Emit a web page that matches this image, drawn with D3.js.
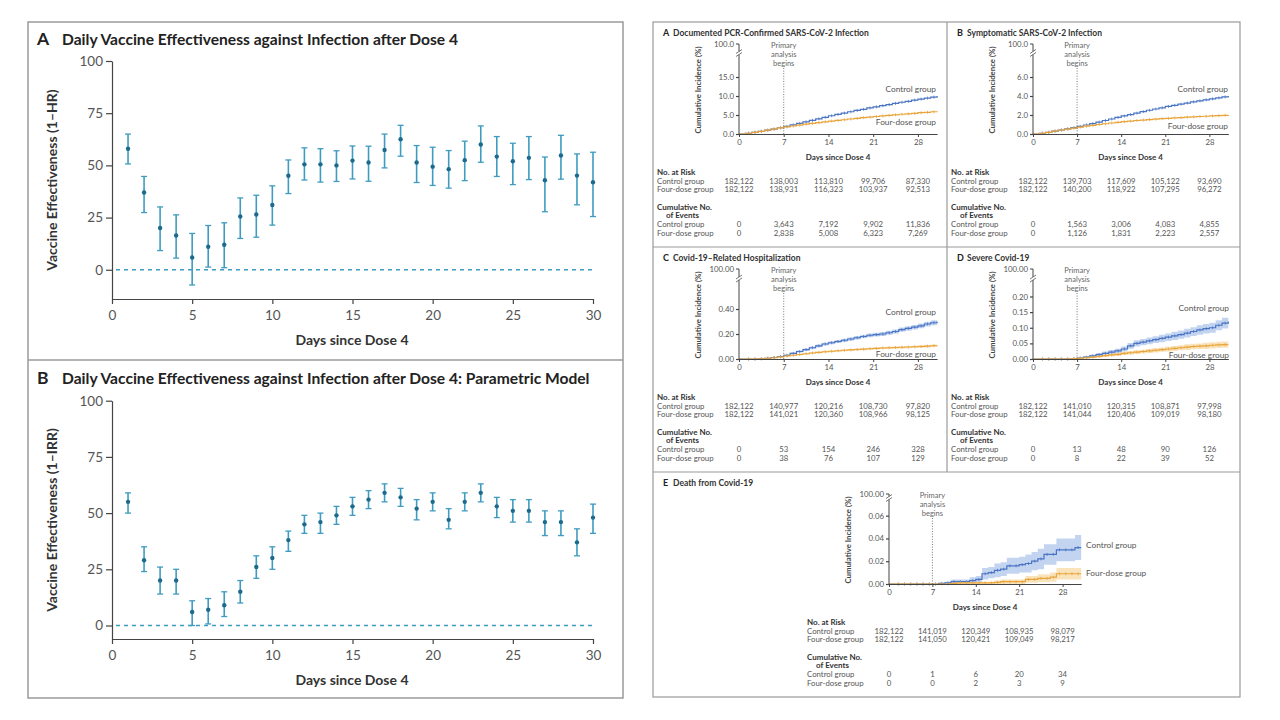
<!DOCTYPE html>
<html>
<head>
<meta charset="utf-8">
<script src="https://cdn.jsdelivr.net/npm/d3@7"></script>
<style>
body { margin: 0; background: #fff; }
svg { font-family: Lato, "Open Sans", sans-serif; }
</style>
</head>
<body>
<svg id="chart" width="1280" height="720"></svg>
<script>
// ---- left figure: daily vaccine effectiveness ----
var veDays = [1,2,3,4,5,6,7,8,9,10,11,12,13,14,15,16,17,18,19,20,21,22,23,24,25,26,27,28,29,30];
var veTicksX = [0,5,10,15,20,25,30];
var veTicksY = [0,25,50,75,100];

var hrEst = [58,37,20,16.4,5.9,11,12,25.5,26.5,31,45,50.5,50.5,50,52.3,51.4,57.4,62.5,51.4,49.4,48.2,52.5,60,54.2,52,53.6,42.9,54.7,45.1,41.9];
var hrLo  = [50.7,27.4,9.2,5.6,-7.3,1.3,1,15,15.6,21.4,36.5,43,42,42.3,43.5,42.4,48.8,54.4,41.8,40.4,39.1,42.7,51.5,44.7,40.8,43.2,27.8,43.4,31.1,25.5];
var hrHi  = [65,44.7,30.1,26.3,17.4,21.2,22.5,34.4,35.7,40.2,52.6,58.4,58,57,59.3,59.2,65,69.2,59.5,58.7,57.1,61.6,68.9,63.8,60.6,63.8,54,64.4,55.5,56.3];

var irrEst = [55,29,20,20,6,7,9,15,26,30,38,45,46,49,53,56,59,57,52,55,47,55,59,53,51,51,46,46,37,48];
var irrLo  = [50,24,14,14,0,0.7,4,10,21,25,33,41,41,45,49,52,55,53,47,51,43,51,55,48,46,46,40,40,31,41];
var irrHi  = [59,35,26,25,11,12,15,20,31,35,42,49,50,53,57,60,63,61,56,59,52,59,63,57,56,56,51,51,43,54];

// ---- right figure: cumulative incidence ----
var kmDays = [0,1,2,3,4,5,6,7,8,9,10,11,12,13,14,15,16,17,18,19,20,21,22,23,24,25,26,27,28,29,30,31];
var kmTickDays = [0,7,14,21,28];

var aCtrl = [0,0.2,0.45,0.7,1.0,1.3,1.65,2.0,2.4,2.8,3.2,3.6,4.0,4.4,4.8,5.15,5.5,5.85,6.2,6.5,6.85,7.15,7.45,7.75,8.05,8.35,8.6,8.9,9.2,9.45,9.7,10.0];
var aFour = [0,0.2,0.45,0.7,1.0,1.3,1.6,1.85,2.1,2.35,2.6,2.8,3.0,3.2,3.4,3.6,3.75,3.95,4.1,4.3,4.45,4.6,4.75,4.9,5.05,5.2,5.3,5.45,5.6,5.7,5.85,6.0];
var aRiskCtrl = ["182,122","138,003","113,810","99,706","87,330"];
var aRiskFour = ["182,122","138,931","116,323","103,937","92,513"];
var aEvCtrl = ["0","3,643","7,192","9,902","11,836"];
var aEvFour = ["0","2,838","5,008","6,323","7,269"];

var bCtrl = [0,0.08,0.18,0.3,0.42,0.54,0.67,0.8,0.95,1.1,1.25,1.42,1.58,1.74,1.9,2.05,2.2,2.35,2.5,2.63,2.76,2.9,3.02,3.14,3.26,3.38,3.49,3.6,3.7,3.8,3.9,4.0];
var bFour = [0,0.08,0.18,0.3,0.42,0.52,0.62,0.72,0.82,0.91,1.0,1.08,1.16,1.23,1.3,1.36,1.42,1.47,1.52,1.57,1.61,1.65,1.69,1.73,1.77,1.8,1.84,1.87,1.9,1.93,1.97,2.0];
var bRiskCtrl = ["182,122","139,703","117,609","105,122","93,690"];
var bRiskFour = ["182,122","140,200","118,922","107,295","96,272"];
var bEvCtrl = ["0","1,563","3,006","4,083","4,855"];
var bEvFour = ["0","1,126","1,831","2,223","2,557"];

var cCtrl = [0,0,0,0.002,0.006,0.012,0.02,0.03,0.045,0.06,0.075,0.09,0.105,0.12,0.13,0.14,0.15,0.16,0.17,0.18,0.19,0.195,0.2,0.21,0.22,0.235,0.245,0.255,0.265,0.28,0.29,0.30];
var cCtrlCI = [0,0,0,0.002,0.003,0.004,0.005,0.006,0.007,0.008,0.009,0.01,0.011,0.011,0.012,0.012,0.013,0.013,0.014,0.014,0.015,0.015,0.016,0.016,0.017,0.017,0.018,0.018,0.019,0.019,0.02,0.02];
var cFour = [0,0,0,0.002,0.006,0.01,0.016,0.024,0.03,0.036,0.042,0.048,0.053,0.058,0.062,0.066,0.07,0.073,0.076,0.079,0.082,0.085,0.088,0.09,0.092,0.094,0.096,0.098,0.1,0.103,0.106,0.108];
var cFourCI = [0,0,0,0.002,0.003,0.003,0.004,0.004,0.005,0.005,0.005,0.006,0.006,0.006,0.007,0.007,0.007,0.007,0.008,0.008,0.008,0.008,0.008,0.009,0.009,0.009,0.009,0.009,0.01,0.01,0.01,0.01];
var cRiskCtrl = ["182,122","140,977","120,216","108,730","97,820"];
var cRiskFour = ["182,122","141,021","120,360","108,966","98,125"];
var cEvCtrl = ["0","53","154","246","328"];
var cEvFour = ["0","38","76","107","129"];

var dCtrl = [0,0,0,0,0,0,0.001,0.003,0.006,0.01,0.014,0.018,0.022,0.026,0.032,0.042,0.05,0.054,0.058,0.062,0.066,0.07,0.074,0.078,0.083,0.088,0.093,0.097,0.1,0.108,0.115,0.12];
var dCtrlCI = [0,0,0,0,0,0,0.001,0.002,0.003,0.004,0.005,0.006,0.007,0.007,0.008,0.009,0.01,0.01,0.011,0.011,0.012,0.012,0.013,0.013,0.014,0.014,0.015,0.015,0.016,0.016,0.017,0.017];
var dFour = [0,0,0,0,0,0,0.001,0.002,0.004,0.006,0.008,0.011,0.013,0.015,0.018,0.02,0.022,0.024,0.026,0.028,0.03,0.032,0.034,0.036,0.038,0.04,0.041,0.042,0.044,0.045,0.046,0.046];
var dFourCI = [0,0,0,0,0,0,0.001,0.001,0.002,0.003,0.003,0.004,0.004,0.005,0.005,0.006,0.006,0.006,0.007,0.007,0.007,0.008,0.008,0.008,0.009,0.009,0.009,0.01,0.01,0.01,0.01,0.01];
var dRiskCtrl = ["182,122","141,010","120,315","108,871","97,998"];
var dRiskFour = ["182,122","141,044","120,406","109,019","98,180"];
var dEvCtrl = ["0","13","48","90","126"];
var dEvFour = ["0","8","22","39","52"];

var eCtrl = [0,0,0,0,0,0,0,0,0.0005,0.001,0.002,0.002,0.002,0.003,0.004,0.009,0.01,0.012,0.013,0.016,0.016,0.017,0.018,0.02,0.022,0.026,0.026,0.03,0.03,0.03,0.032,0.032];
var eCtrlCI = [0,0,0,0,0,0,0,0,0.0005,0.001,0.002,0.002,0.002,0.003,0.003,0.005,0.005,0.006,0.006,0.007,0.007,0.007,0.008,0.008,0.009,0.009,0.009,0.01,0.01,0.01,0.011,0.011];
var eFour = [0,0,0,0,0,0,0,0,0,0,0.0005,0.001,0.001,0.001,0.001,0.001,0.001,0.0015,0.002,0.002,0.002,0.002,0.004,0.004,0.005,0.005,0.006,0.009,0.009,0.009,0.009,0.009];
var eFourCI = [0,0,0,0,0,0,0,0,0,0,0.0005,0.001,0.001,0.001,0.001,0.001,0.001,0.0015,0.002,0.002,0.002,0.002,0.003,0.003,0.0035,0.0035,0.004,0.005,0.005,0.005,0.005,0.005];
var eRiskCtrl = ["182,122","141,019","120,349","108,935","98,079"];
var eRiskFour = ["182,122","141,050","120,421","109,049","98,217"];
var eEvCtrl = ["0","1","6","20","34"];
var eEvFour = ["0","0","2","3","9"];

var teal = "#3f9cc0", tealDark = "#1d6b8c";
var blue = "#4a74c4", blueBand = "#b4c9ec";
var orange = "#e9a53c", orangeBand = "#f8dcaa";
var border = "#9a9a9a";

var svg = d3.select("#chart");

// frames
svg.append("rect").attr("x", 28).attr("y", 22).attr("width", 595).attr("height", 676)
  .attr("fill", "none").attr("stroke", border).attr("stroke-width", 1.5);
svg.append("line").attr("x1", 28).attr("x2", 623).attr("y1", 360).attr("y2", 360)
  .attr("stroke", border).attr("stroke-width", 1.5);
svg.append("rect").attr("x", 653).attr("y", 22).attr("width", 587).attr("height", 675)
  .attr("fill", "none").attr("stroke", border).attr("stroke-width", 1.2);
svg.append("line").attr("x1", 947).attr("x2", 947).attr("y1", 22).attr("y2", 472)
  .attr("stroke", border).attr("stroke-width", 1.2);
[247, 472].forEach(function(yy) {
  svg.append("line").attr("x1", 653).attr("x2", 1240).attr("y1", yy).attr("y2", yy)
    .attr("stroke", border).attr("stroke-width", 1.2);
});

function styleAxis(sel, size) {
  sel.attr("font-family", null).attr("font-size", size);
  sel.selectAll("path, line").attr("stroke", "#444").attr("stroke-width", 1.2);
  sel.selectAll("text").attr("fill", "#555");
}

function drawVE(cfg) {
  var g = svg.append("g");
  var x = d3.scaleLinear().domain([0, 30]).range([112, 593]);
  var y = d3.scaleLinear().domain([cfg.yMin, 100]).range([cfg.bottom, cfg.top]);

  g.append("text").attr("x", 37).attr("y", cfg.titleY).attr("font-size", 17.5)
    .attr("font-weight", "bold").attr("fill", "#222").text(cfg.letter);
  g.append("text").attr("x", 62).attr("y", cfg.titleY).attr("font-size", 15.6)
    .attr("font-weight", "bold").attr("fill", "#222").text(cfg.title);

  g.append("g").attr("transform", "translate(112,0)")
    .call(d3.axisLeft(y).tickValues(veTicksY).tickSize(6).tickSizeOuter(0).tickPadding(3))
    .call(styleAxis, 13.5);
  g.append("g").attr("transform", "translate(0," + cfg.bottom + ")")
    .call(d3.axisBottom(x).tickValues(veTicksX).tickSize(5).tickSizeOuter(0).tickPadding(6))
    .call(styleAxis, 13.5);

  g.append("line").attr("x1", x(0) + 4).attr("x2", x(30)).attr("y1", y(0)).attr("y2", y(0))
    .attr("stroke", teal).attr("stroke-width", 1.3).attr("stroke-dasharray", "4,4");

  var bars = g.selectAll(".bar").data(veDays).enter().append("g");
  bars.append("line").attr("x1", function(d) { return x(d); }).attr("x2", function(d) { return x(d); })
    .attr("y1", function(d, i) { return y(cfg.lo[i]); }).attr("y2", function(d, i) { return y(cfg.hi[i]); })
    .attr("stroke", teal).attr("stroke-width", 1.6);
  ["lo", "hi"].forEach(function(k) {
    bars.append("line").attr("x1", function(d) { return x(d) - 3; }).attr("x2", function(d) { return x(d) + 3; })
      .attr("y1", function(d, i) { return y(cfg[k][i]); }).attr("y2", function(d, i) { return y(cfg[k][i]); })
      .attr("stroke", teal).attr("stroke-width", 1.3);
  });
  bars.append("circle").attr("cx", function(d) { return x(d); })
    .attr("cy", function(d, i) { return y(cfg.est[i]); }).attr("r", 2.2).attr("fill", tealDark);

  g.append("text").attr("transform", "translate(57," + cfg.yTitleY + ") rotate(-90)")
    .attr("text-anchor", "middle").attr("font-size", 14).attr("font-weight", "bold")
    .attr("fill", "#333").text(cfg.yTitle);
  g.append("text").attr("x", 352).attr("y", cfg.xTitleY).attr("text-anchor", "middle")
    .attr("font-size", 14).attr("font-weight", "bold").attr("fill", "#333").text("Days since Dose 4");
}

drawVE({ letter: "A", title: "Daily Vaccine Effectiveness against Infection after Dose 4",
  titleY: 45, top: 61, bottom: 299, yMin: -14, est: hrEst, lo: hrLo, hi: hrHi,
  yTitle: "Vaccine Effectiveness (1\u2013HR)", yTitleY: 180, xTitleY: 345 });
drawVE({ letter: "B", title: "Daily Vaccine Effectiveness against Infection after Dose 4: Parametric Model",
  titleY: 384, top: 400.7, bottom: 639, yMin: -6, est: irrEst, lo: irrLo, hi: irrHi,
  yTitle: "Vaccine Effectiveness (1\u2013IRR)", yTitleY: 520, xTitleY: 685 });

function drawKM(p) {
  var g = svg.append("g").attr("transform", "translate(" + p.ox + "," + p.oy + ")");
  var ax = p.axisX, ay = 112, topY = 22;
  var x = d3.scaleLinear().domain([0, 31]).range([ax, ax + 31 * p.ppd]);
  var y = d3.scaleLinear().domain([0, p.brk]).range([ay, p.breakY]);

  g.append("text").attr("x", 10).attr("y", 14).attr("font-size", 9).attr("font-weight", "bold")
    .attr("fill", "#222").text(p.letter);
  g.append("text").attr("x", 20).attr("y", 14).attr("font-size", 8.5).attr("font-weight", "bold")
    .attr("fill", "#333").text(p.title);

  // bands and curves (four-dose drawn on top)
  var area = d3.area().curve(d3.curveStepAfter).x(function(d) { return x(d); });
  var line = d3.line().curve(d3.curveStepAfter).x(function(d) { return x(d); });
  [[p.ctrl, p.ctrlCI, blue, blueBand], [p.four, p.fourCI, orange, orangeBand]].forEach(function(s) {
    if (s[1]) {
      g.append("path").datum(kmDays)
        .attr("d", area.y0(function(d, i) { return y(Math.max(0, s[0][i] - s[1][i])); })
          .y1(function(d, i) { return y(s[0][i] + s[1][i]); }))
        .attr("fill", s[3]).attr("opacity", 0.8);
    }
  });
  [[p.ctrl, blue], [p.four, orange]].forEach(function(s) {
    g.append("path").datum(kmDays).attr("d", line.y(function(d, i) { return y(s[0][i]); }))
      .attr("fill", "none").attr("stroke", s[1]).attr("stroke-width", 1.2);
    g.selectAll(null).data(kmDays.slice(1, 31)).enter().append("line")
      .attr("x1", function(d) { return x(d + 0.5); }).attr("x2", function(d) { return x(d + 0.5); })
      .attr("y1", function(d) { return y(s[0][d]) - 1.5; }).attr("y2", function(d) { return y(s[0][d]) + 1.5; })
      .attr("stroke", s[1]).attr("stroke-width", 0.8);
  });

  // y axis (broken)
  g.append("line").attr("x1", ax).attr("x2", ax).attr("y1", ay).attr("y2", topY)
    .attr("stroke", "#444").attr("stroke-width", 1);
  var ya = g.append("g").attr("transform", "translate(" + ax + ",0)")
    .call(d3.axisLeft(y).tickValues(p.ticks).tickSize(3).tickPadding(2)
      .tickFormat(d3.format("." + p.dec + "f")))
    .call(styleAxis, 7.8);
  ya.select(".domain").remove();
  g.append("line").attr("x1", ax - 3).attr("x2", ax).attr("y1", topY).attr("y2", topY)
    .attr("stroke", "#444").attr("stroke-width", 1);
  g.append("text").attr("x", ax - 5).attr("y", topY + 2.7).attr("text-anchor", "end")
    .attr("font-size", 7.8).attr("fill", "#555").text(d3.format("." + p.dec + "f")(100));
  var by = p.breakY + (topY - p.breakY) / 2 + (p.breakY > 32 ? 2 : 0);
  g.append("rect").attr("x", ax - 2).attr("y", by - 1.5).attr("width", 4).attr("height", 3).attr("fill", "#fff");
  [-1.5, 1.5].forEach(function(o) {
    g.append("line").attr("x1", ax - 3).attr("x2", ax + 3).attr("y1", by + o + 2).attr("y2", by + o - 2)
      .attr("stroke", "#555").attr("stroke-width", 0.8);
  });

  g.append("g").attr("transform", "translate(0," + ay + ")")
    .call(d3.axisBottom(x).tickValues(kmTickDays).tickSize(3).tickSizeOuter(0).tickPadding(2))
    .call(styleAxis, 7.8).selectAll("path, line").attr("stroke-width", 1);

  // primary analysis marker
  g.append("line").attr("x1", x(7)).attr("x2", x(7)).attr("y1", 46).attr("y2", ay)
    .attr("stroke", "#777").attr("stroke-width", 1).attr("stroke-dasharray", "1,1.6");
  ["Primary", "analysis", "begins"].forEach(function(t, i) {
    g.append("text").attr("x", x(7)).attr("y", 25.5 + i * 9).attr("text-anchor", "middle")
      .attr("font-size", 7.5).attr("fill", "#666").text(t);
  });

  // curve labels
  g.append("text").attr("x", p.labX).attr("y", p.ctrlLabY + 2.7).attr("text-anchor", p.labAnchor)
    .attr("font-size", 8.3).attr("fill", "#555").text("Control group");
  g.append("text").attr("x", p.labX).attr("y", p.fourLabY + 2.7).attr("text-anchor", p.labAnchor)
    .attr("font-size", 8.3).attr("fill", "#555").text("Four-dose group");

  g.append("text").attr("transform", "translate(" + (ax - 38) + ",68) rotate(-90)")
    .attr("text-anchor", "middle").attr("font-size", 7.8).attr("font-weight", "bold")
    .attr("fill", "#444").text("Cumulative Incidence (%)");
  g.append("text").attr("x", x(15.5)).attr("y", 138).attr("text-anchor", "middle")
    .attr("font-size", 8).attr("font-weight", "bold").attr("fill", "#333").text("Days since Dose 4");

  // table
  var lx = ax - 82;
  var rows = [
    { t: "No. at Risk", y: 150, bold: true },
    { t: "Control group", y: 159, vals: p.riskCtrl },
    { t: "Four-dose group", y: 167.5, vals: p.riskFour },
    { t: "Cumulative No.", y: 185, bold: true },
    { t: "of Events", y: 193.5, bold: true, indent: 9 },
    { t: "Control group", y: 202.5, vals: p.evCtrl },
    { t: "Four-dose group", y: 211, vals: p.evFour }
  ];
  rows.forEach(function(r) {
    g.append("text").attr("x", lx + (r.indent || 0)).attr("y", r.y + 2.7)
      .attr("font-size", r.bold ? 8 : 7.8).attr("font-weight", r.bold ? "bold" : null)
      .attr("fill", r.bold ? "#333" : "#555").text(r.t);
    if (r.vals) {
      g.selectAll(null).data(r.vals).enter().append("text")
        .attr("x", function(d, i) { return x(kmTickDays[i]); }).attr("y", r.y + 2.7)
        .attr("text-anchor", "middle").attr("font-size", 7.8).attr("fill", "#555")
        .text(function(d) { return d; });
    }
  });
}

var kmPanels = [
  { letter: "A", title: "Documented PCR-Confirmed SARS-CoV-2 Infection", ox: 653, oy: 22,
    axisX: 86, ppd: 6.39, brk: 20, breakY: 36, ticks: [0, 5, 10, 15], dec: 1,
    ctrl: aCtrl, four: aFour, riskCtrl: aRiskCtrl, riskFour: aRiskFour, evCtrl: aEvCtrl, evFour: aEvFour,
    labX: 283, labAnchor: "end", ctrlLabY: 67, fourLabY: 100 },
  { letter: "B", title: "Symptomatic SARS-CoV-2 Infection", ox: 947, oy: 22,
    axisX: 86, ppd: 6.3, brk: 8, breakY: 36, ticks: [0, 2, 4, 6], dec: 1,
    ctrl: bCtrl, four: bFour, riskCtrl: bRiskCtrl, riskFour: bRiskFour, evCtrl: bEvCtrl, evFour: bEvFour,
    labX: 281, labAnchor: "end", ctrlLabY: 67, fourLabY: 104 },
  { letter: "C", title: "Covid-19\u2013Related Hospitalization", ox: 653, oy: 247,
    axisX: 86, ppd: 6.39, brk: 0.6, breakY: 37, ticks: [0, 0.2, 0.4], dec: 2,
    ctrl: cCtrl, ctrlCI: cCtrlCI, four: cFour, fourCI: cFourCI,
    riskCtrl: cRiskCtrl, riskFour: cRiskFour, evCtrl: cEvCtrl, evFour: cEvFour,
    labX: 283, labAnchor: "end", ctrlLabY: 65, fourLabY: 107 },
  { letter: "D", title: "Severe Covid-19", ox: 947, oy: 247,
    axisX: 86, ppd: 6.3, brk: 0.24, breakY: 37, ticks: [0, 0.05, 0.1, 0.15, 0.2], dec: 2,
    ctrl: dCtrl, ctrlCI: dCtrlCI, four: dFour, fourCI: dFourCI,
    riskCtrl: dRiskCtrl, riskFour: dRiskFour, evCtrl: dEvCtrl, evFour: dEvFour,
    labX: 282, labAnchor: "end", ctrlLabY: 61, fourLabY: 108 },
  { letter: "E", title: "Death from Covid-19", ox: 653, oy: 472,
    axisX: 236, ppd: 6.2, brk: 0.072, breakY: 30, ticks: [0, 0.02, 0.04, 0.06], dec: 2,
    ctrl: eCtrl, ctrlCI: eCtrlCI, four: eFour, fourCI: eFourCI,
    riskCtrl: eRiskCtrl, riskFour: eRiskFour, evCtrl: eEvCtrl, evFour: eEvFour,
    labX: 433, labAnchor: "start", ctrlLabY: 73, fourLabY: 101 }
];
kmPanels.forEach(drawKM);
</script>
</body>
</html>
